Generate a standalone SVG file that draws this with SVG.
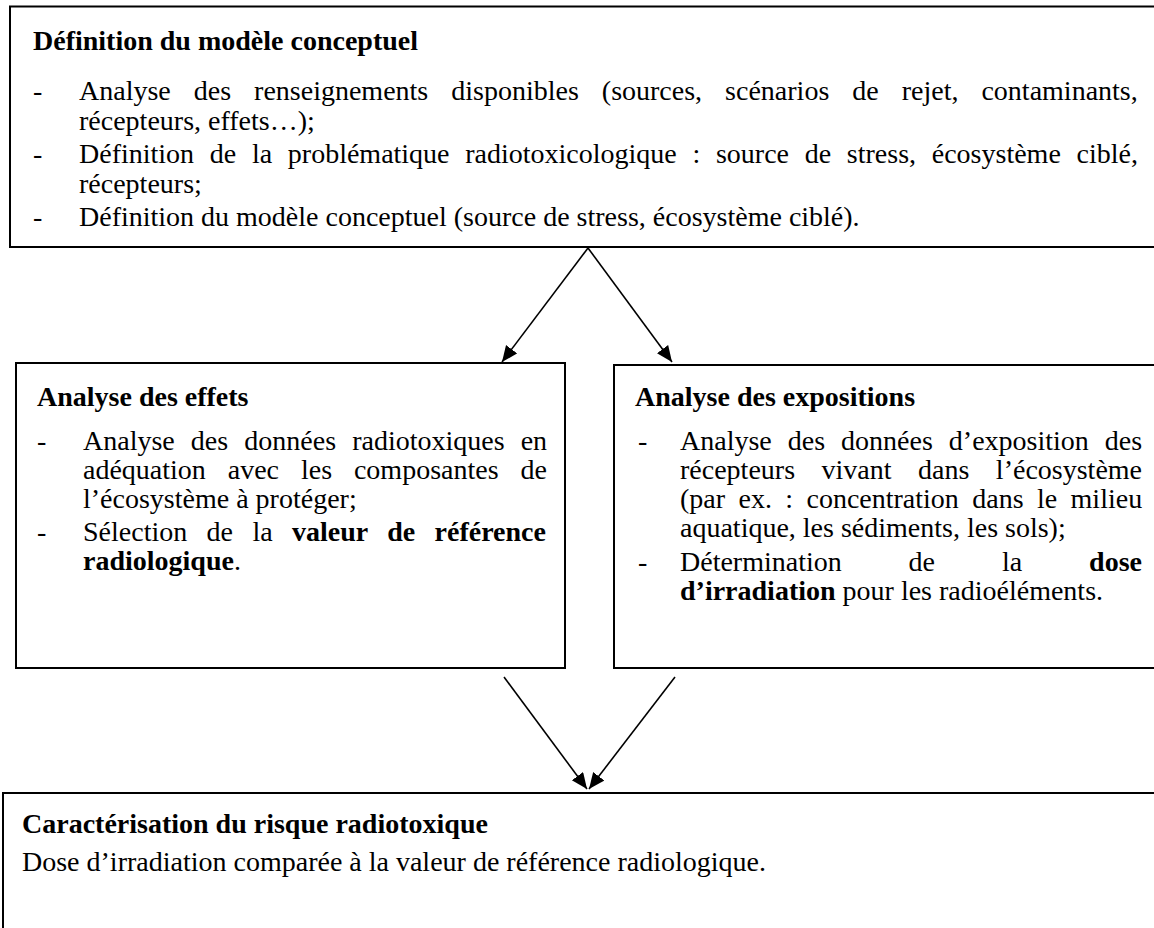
<svg xmlns="http://www.w3.org/2000/svg" width="1154" height="928" viewBox="0 0 1154 928">
<style>
.box{fill:#fff;stroke:#000;stroke-width:2}
.t{font-family:"Liberation Serif","Times New Roman",serif;font-size:28px;fill:#000}
.b{font-weight:bold}
.con{stroke:#000;stroke-width:1.6;fill:none}
</style>
<defs>
<marker id="ah" markerUnits="userSpaceOnUse" markerWidth="18" markerHeight="15" refX="16" refY="7" orient="auto">
<path d="M0,0 L16,7 L0,14 z" fill="#000"/>
</marker>
</defs>
<rect width="1154" height="928" fill="#fff"/>
<g id="node-definition">
<rect class="box" x="10" y="6.5" width="1170" height="240.5"/>
<text class="t b" x="33" y="50">Définition du modèle conceptuel</text>
<text class="t" x="33" y="100">-</text>
<text class="t" x="79" y="100" word-spacing="16">Analyse des renseignements disponibles (sources, scénarios de rejet, contaminants,</text>
<text class="t" x="79" y="130">récepteurs, effets…);</text>
<text class="t" x="33" y="163">-</text>
<text class="t" x="79" y="163" word-spacing="8.7">Définition de la problématique radiotoxicologique&#160;: source de stress, écosystème ciblé,</text>
<text class="t" x="79" y="193">récepteurs;</text>
<text class="t" x="33" y="226">-</text>
<text class="t" x="79" y="226">Définition du modèle conceptuel (source de stress, écosystème ciblé).</text>
</g>
<g id="node-effets">
<rect class="box" x="16" y="363" width="549" height="305"/>
<text class="t b" x="37" y="406">Analyse des effets</text>
<text class="t" x="37" y="450">-</text>
<text class="t" x="83" y="450" word-spacing="9.1">Analyse des données radiotoxiques en</text>
<text class="t" x="83" y="479" word-spacing="14.9">adéquation avec les composantes de</text>
<text class="t" x="83" y="508">l’écosystème à protéger;</text>
<text class="t" x="37" y="541">-</text>
<text class="t" x="83" y="541" word-spacing="12.4">Sélection de la <tspan class="b">valeur de référence</tspan></text>
<text class="t" x="83" y="570"><tspan class="b">radiologique</tspan>.</text>
</g>
<g id="node-expositions">
<rect class="box" x="614" y="365" width="560" height="303"/>
<text class="t b" x="635" y="406">Analyse des expositions</text>
<text class="t" x="638" y="450">-</text>
<text class="t" x="680" y="450" word-spacing="9">Analyse des données d’exposition des</text>
<text class="t" x="680" y="479" word-spacing="19.5">récepteurs vivant dans l’écosystème</text>
<text class="t" x="680" y="508" word-spacing="6.4">(par ex.&#160;: concentration dans le milieu</text>
<text class="t" x="680" y="537">aquatique, les sédiments, les sols);</text>
<text class="t" x="638" y="571">-</text>
<text class="t" x="680" y="571" word-spacing="59.9">Détermination de la <tspan class="b">dose</tspan></text>
<text class="t" x="680" y="600"><tspan class="b">d’irradiation</tspan> pour les radioéléments.</text>
</g>
<g id="node-caracterisation">
<rect class="box" x="3" y="793" width="1170" height="150"/>
<text class="t b" x="22" y="833">Caractérisation du risque radiotoxique</text>
<text class="t" x="22" y="871">Dose d’irradiation comparée à la valeur de référence radiologique.</text>
</g>
<g id="connectors">
<line class="con" x1="588" y1="248" x2="502" y2="362" marker-end="url(#ah)"/>
<line class="con" x1="588" y1="248" x2="672" y2="362" marker-end="url(#ah)"/>
<line class="con" x1="504" y1="677" x2="587" y2="789" marker-end="url(#ah)"/>
<line class="con" x1="675" y1="677" x2="589" y2="789" marker-end="url(#ah)"/>
</g>
</svg>
